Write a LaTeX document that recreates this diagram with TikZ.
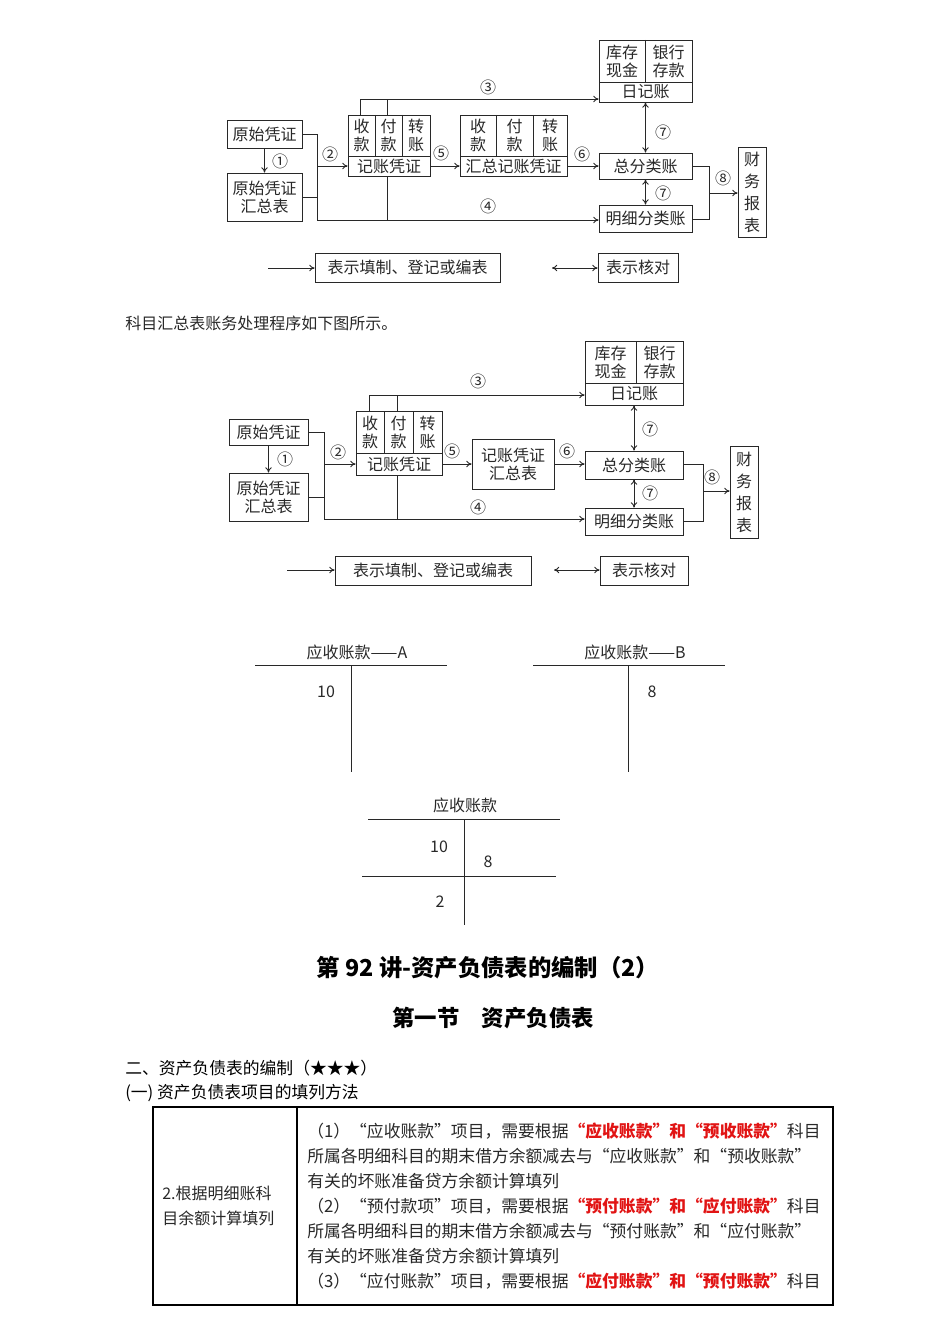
\documentclass[tikz,border=0pt]{standalone}
\usepackage{fontspec}
\setmainfont{Noto Sans CJK SC}
\usetikzlibrary{fit,arrows.meta}
\definecolor{tx}{RGB}{40,40,40}
\definecolor{rd}{RGB}{225,20,20}
\newcommand\bx[5]{\node[bx,fit={(#2,#3) (#4,#5)}] (#1) {};}
\begin{document}
\begin{tikzpicture}[x=0.75pt,y=-0.75pt,
  bx/.style={draw=tx,line width=0.7pt,inner sep=0pt},
  ln/.style={draw=tx,line width=0.7pt},
  ar/.style={ln,-{To[length=4pt,width=5pt]}},
  dar/.style={ln,{To[length=4pt,width=5pt]}-{To[length=4pt,width=5pt]}},
  t/.style={text=tx,font=\fontsize{12pt}{13.5pt}\selectfont,inner sep=0pt,align=center},
  nm/.style={text=tx,font=\fontsize{12pt}{13pt}\selectfont,inner sep=0pt}]
\useasboundingbox (0,0) rectangle (950,1344);
% ================= Diagram 1
\bx{ys}{227}{120}{302}{148}\node[t] at (ys) {原始凭证};
\bx{hz}{227}{173}{302}{221}\node[t] at (hz) {原始凭证\\汇总表};
\bx{jz}{348}{115}{430}{176}
\draw[ln] (348,156)--(430,156) (375,115)--(375,156) (402,115)--(402,156);
\node[t] at (361.5,135.5){收\\款};\node[t] at (388.5,135.5){付\\款};\node[t] at (416,135.5){转\\账};
\node[t] at (389,166){记账凭证};
\bx{hj}{460}{115}{567}{176}
\draw[ln] (460,156)--(567,156) (496,115)--(496,156) (533,115)--(533,156);
\node[t] at (478,135.5){收\\款};\node[t] at (514.5,135.5){付\\款};\node[t] at (550,135.5){转\\账};
\node[t] at (513.5,166){汇总记账凭证};
\bx{rj}{599}{40}{692}{102}
\draw[ln] (599,82)--(692,82) (645,40)--(645,82);
\node[t] at (622,61){库存\\现金};\node[t] at (668.5,61){银行\\存款};\node[t] at (645.5,92){日记账};
\bx{zf}{599}{153}{692}{179}\node[t] at (zf){总分类账};
\bx{mx}{599}{205}{692}{232}\node[t] at (mx){明细分类账};
\bx{cw}{738}{147}{766}{237}\node[t,font=\fontsize{12pt}{16.5pt}\selectfont] at (cw){财\\务\\报\\表};
\draw[ar] (ys.south)--(hz.north);\node[nm] at (280,161){①};
\draw[ln] (ys.east)--(317,134)--(317,220);\draw[ln] (hz.east)--(317,197);
\draw[ar] (317,166)--(jz.west|-0,166);\node[nm] at (330,154){②};
\draw[ln] (360,115)--(360,99) (387,115)--(387,99);
\draw[ar] (360,99)--(rj.west|-0,99);\node[nm] at (488,87){③};
\draw[ar] (jz.east|-0,166)--(hj.west|-0,166);\node[nm] at (441,153){⑤};
\draw[ar] (hj.east|-0,166)--(zf.west|-0,166);\node[nm] at (582,154){⑥};
\draw[dar] (rj.south)--(zf.north);\node[nm] at (663,132){⑦};
\draw[dar] (zf.south)--(mx.north);\node[nm] at (663,193){⑦};
\draw[ln] (387,176)--(387,220);
\draw[ar] (317,220)--(mx.west|-0,220);\node[nm] at (488,206){④};
\draw[ln] (zf.east|-0,166)--(709,166)--(709,219)--(mx.east|-0,219);
\draw[ar] (709,193)--(cw.west|-0,193);\node[nm] at (723,178){⑧};
\bx{l1}{315}{253}{500}{282}\node[t] at (l1){表示填制、登记或编表};
\draw[ar] (268,268)--(l1.west|-0,268);
\bx{l2}{598}{253}{678}{282}\node[t] at (l2){表示核对};
\draw[dar] (552,268)--(l2.west|-0,268);
\node[t,anchor=west] at (125,323){科目汇总表账务处理程序如下图所示。};
% ================= Diagram 2
\bx{ys2}{229}{419}{308}{445}\node[t] at (ys2) {原始凭证};
\bx{hz2}{229}{473}{308}{521}\node[t] at (hz2) {原始凭证\\汇总表};
\bx{jz2}{356}{411}{442}{475}
\draw[ln] (356,453)--(442,453) (384,411)--(384,453) (413,411)--(413,453);
\node[t] at (370,432){收\\款};\node[t] at (398.5,432){付\\款};\node[t] at (427.5,432){转\\账};
\node[t] at (399,464){记账凭证};
\bx{hb2}{472}{439}{554}{489}\node[t] at (hb2){记账凭证\\汇总表};
\bx{rj2}{585}{341}{683}{405}
\draw[ln] (585,383)--(683,383) (636,341)--(636,383);
\node[t] at (610.5,362){库存\\现金};\node[t] at (659.5,362){银行\\存款};\node[t] at (634,394){日记账};
\bx{zf2}{585}{451}{683}{479}\node[t] at (zf2){总分类账};
\bx{mx2}{585}{508}{683}{535}\node[t] at (mx2){明细分类账};
\bx{cw2}{730}{446}{758}{538}\node[t,font=\fontsize{12pt}{16.5pt}\selectfont] at (cw2){财\\务\\报\\表};
\draw[ar] (ys2.south)--(hz2.north);\node[nm] at (285,459){①};
\draw[ln] (ys2.east)--(324,432)--(324,519);\draw[ln] (hz2.east)--(324,497);
\draw[ar] (324,464)--(jz2.west|-0,464);\node[nm] at (338,452){②};
\draw[ln] (369,411)--(369,395) (397,411)--(397,395);
\draw[ar] (369,395)--(rj2.west|-0,395);\node[nm] at (478,381){③};
\draw[ar] (jz2.east|-0,464)--(hb2.west|-0,464);\node[nm] at (452,451){⑤};
\draw[ar] (hb2.east|-0,464)--(zf2.west|-0,464);\node[nm] at (567,451){⑥};
\draw[dar] (rj2.south)--(zf2.north);\node[nm] at (650,429){⑦};
\draw[dar] (zf2.south)--(mx2.north);\node[nm] at (650,493){⑦};
\draw[ln] (397,475)--(397,519);
\draw[ar] (324,519)--(mx2.west|-0,519);\node[nm] at (478,507){④};
\draw[ln] (zf2.east|-0,464)--(703,464)--(703,521)--(mx2.east|-0,521);
\draw[ar] (703,491)--(cw2.west|-0,491);\node[nm] at (712,477){⑧};
\bx{l3}{335}{556}{531}{585}\node[t] at (l3){表示填制、登记或编表};
\draw[ar] (287,570)--(l3.west|-0,570);
\bx{l4}{600}{556}{688}{585}\node[t] at (l4){表示核对};
\draw[dar] (554,570)--(l4.west|-0,570);
% ================= T accounts
\node[t] (ta) at (357,652){应收账款——A};
\draw[ln] (255,665)--(447,665);\draw[ln] (351,665)--(351,772);\node[t] at (326,692){10};
\node[t] (tb) at (635,652){应收账款——B};
\draw[ln] (533,665)--(725,665);\draw[ln] (628,665)--(628,772);\node[t] at (652,692){8};
\node[t] (tc) at (465,805){应收账款};
\draw[ln] (368,819)--(560,819);\draw[ln] (464,819)--(464,925);
\node[t] at (439,847){10};\node[t] at (488,862){8};
\draw[ln] (362,876)--(556,876);\node[t] at (440,902){2};
% ================= Headings
\node[text=black,font=\fontsize{17.5pt}{20pt}\selectfont\bfseries] at (488,968){第 92 讲-资产负债表的编制（2）};
\node[text=black,font=\fontsize{16.8pt}{20pt}\selectfont\bfseries] at (493,1018){第一节\quad 资产负债表};
\node[anchor=west,text=black,font=\fontsize{12.6pt}{14pt}\selectfont,inner sep=0pt] at (125,1068){二、资产负债表的编制（★★★）};
\node[anchor=west,text=black,font=\fontsize{12.6pt}{14pt}\selectfont,inner sep=0pt] at (125,1093){(一) 资产负债表项目的填列方法};
% ================= Table
\draw[line width=1.3pt] (153,1107) rectangle (833,1305);
\draw[line width=1.3pt] (297,1107)--(297,1305);
\node[t,align=left,anchor=west,font=\fontsize{12pt}{19pt}\selectfont] at (162,1206){2.根据明细账科\\目余额计算填列};
\begin{scope}[every node/.style={anchor=west,text=tx,inner sep=0pt,font=\fontsize{12.6pt}{14pt}\selectfont}]
\node at (307,1131){（1）“应收账款”项目，需要根据\textcolor{rd}{\bfseries“应收账款”和“预收账款”}科目};
\node at (307,1156){所属各明细科目的期末借方余额减去与“应收账款”和“预收账款”};
\node at (307,1181){有关的坏账准备贷方余额计算填列};
\node at (307,1206){（2）“预付款项”项目，需要根据\textcolor{rd}{\bfseries“预付账款”和“应付账款”}科目};
\node at (307,1231){所属各明细科目的期末借方余额减去与“预付账款”和“应付账款”};
\node at (307,1256){有关的坏账准备贷方余额计算填列};
\node at (307,1281){（3）“应付账款”项目，需要根据\textcolor{rd}{\bfseries“应付账款”和“预付账款”}科目};
\end{scope}
\end{tikzpicture}
\end{document}
